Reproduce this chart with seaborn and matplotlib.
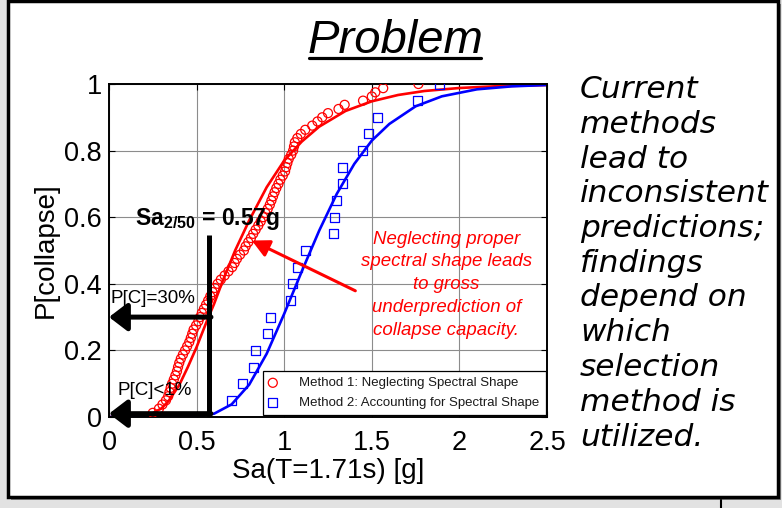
import seaborn as sns
import matplotlib.pyplot as plt
from matplotlib.patches import Rectangle
from matplotlib.lines import Line2D

# Method 1: neglecting spectral shape (collapse points)
m1_sa = [0.25, 0.285, 0.305, 0.325, 0.338, 0.345, 0.352, 0.36, 0.37, 0.379,
         0.388, 0.394, 0.401, 0.41, 0.422, 0.434, 0.446, 0.458, 0.467, 0.475,
         0.483, 0.497, 0.51, 0.52, 0.53, 0.542, 0.554, 0.566, 0.578, 0.591,
         0.604, 0.62, 0.638, 0.66, 0.682, 0.703, 0.717, 0.73, 0.748, 0.77,
         0.78, 0.795, 0.81, 0.823, 0.837, 0.852, 0.866, 0.88, 0.893, 0.906,
         0.918, 0.927, 0.936, 0.945, 0.955, 0.967, 0.978, 0.992, 1.005, 1.011,
         1.018, 1.026, 1.04, 1.051, 1.056, 1.061, 1.075, 1.095, 1.12, 1.16,
         1.19, 1.217, 1.25, 1.31, 1.345, 1.45, 1.5, 1.52, 1.565, 1.766]
m1_p = [0.0125, 0.025, 0.0375, 0.05, 0.0625, 0.075, 0.0875, 0.1, 0.1125, 0.125,
        0.1375, 0.15, 0.1625, 0.175, 0.1875, 0.2, 0.2125, 0.225, 0.2375, 0.25,
        0.2625, 0.275, 0.2875, 0.3, 0.3125, 0.325, 0.3375, 0.35, 0.3625, 0.375,
        0.3875, 0.4, 0.4125, 0.425, 0.4375, 0.45, 0.4625, 0.475, 0.4875, 0.5,
        0.5125, 0.525, 0.5375, 0.55, 0.5625, 0.575, 0.5875, 0.6, 0.6125, 0.625,
        0.6375, 0.65, 0.6625, 0.675, 0.6875, 0.7, 0.7125, 0.725, 0.7375, 0.75,
        0.7625, 0.775, 0.7875, 0.8, 0.8125, 0.825, 0.8375, 0.85, 0.8625, 0.875,
        0.8875, 0.9, 0.9125, 0.925, 0.9375, 0.95, 0.9625, 0.975, 0.9875, 1.0]

# Method 2: accounting for spectral shape
m2_sa = [0.70, 0.764, 0.823, 0.834, 0.907, 0.924, 1.038, 1.05, 1.076, 1.121,
         1.282, 1.286, 1.299, 1.33, 1.333, 1.446, 1.482, 1.533, 1.758, 1.887]
m2_p = [0.05, 0.10, 0.15, 0.20, 0.25, 0.30, 0.35, 0.40, 0.45, 0.50,
        0.55, 0.60, 0.65, 0.70, 0.75, 0.80, 0.85, 0.90, 0.95, 1.00]

# fitted fragility curves
fit1_sa = [0.0, 0.15, 0.23, 0.3, 0.34, 0.4, 0.45, 0.5, 0.56, 0.6, 0.65, 0.72,
           0.8, 0.9, 1.0, 1.1, 1.2, 1.35, 1.5, 1.65, 1.8, 2.0, 2.2, 2.5]
fit1_p = [0.0, 0.0002, 0.006, 0.026, 0.048, 0.095, 0.15, 0.21, 0.29, 0.34, 0.41, 0.5,
          0.59, 0.69, 0.77, 0.827, 0.872, 0.919, 0.948, 0.967, 0.979, 0.988, 0.993, 0.997]
fit2_sa = [0.0, 0.4, 0.5, 0.6, 0.7, 0.8, 0.9, 1.0, 1.1, 1.2, 1.3, 1.4, 1.5,
           1.6, 1.75, 1.9, 2.1, 2.3, 2.5]
fit2_p = [0.0, 0.0002, 0.0015, 0.01, 0.038, 0.097, 0.19, 0.31, 0.437, 0.56, 0.67, 0.76, 0.83,
          0.88, 0.933, 0.963, 0.984, 0.993, 0.997]

sa_2_50 = 0.57
p_30 = 0.30
p_1 = 0.01

x_ticks = [0, 0.5, 1, 1.5, 2, 2.5]
x_ticklabels = ['0', '0.5', '1', '1.5', '2', '2.5']
y_ticks = [0, 0.2, 0.4, 0.6, 0.8, 1.0]
y_ticklabels = ['0', '0.2', '0.4', '0.6', '0.8', '1']

sns.set_theme(style='white', rc={'text.color': 'black', 'axes.labelcolor': 'black',
                                 'xtick.color': 'black', 'ytick.color': 'black'})
plt.rcParams['font.family'] = ['Liberation Sans', 'DejaVu Sans']
plt.rcParams['mathtext.fontset'] = 'custom'
plt.rcParams['mathtext.rm'] = 'Liberation Sans'
plt.rcParams['mathtext.bf'] = 'Liberation Sans:bold'

W, H = 782, 508
fig = plt.figure(figsize=(W / 100, H / 100), dpi=100, facecolor='#e2e2e2')

# slide frame with a small shadow
fig.add_artist(Rectangle((11 / W, 8 / H), 770 / W, 496 / H, transform=fig.transFigure,
                         facecolor='#8a8a8a', edgecolor='none', zorder=-3))
fig.add_artist(Rectangle((8 / W, 11 / H), 770 / W, 496 / H, transform=fig.transFigure,
                         facecolor='white', edgecolor='black', linewidth=2.5, zorder=-2))
fig.add_artist(Line2D([721 / W, 721 / W], [0, 8 / H], color='black', lw=1.5))

# title
fig.text(395 / W, 1 - 53 / H, 'Problem', ha='center', va='baseline', fontsize=34,
         style='italic', color='black', family=['Liberation Sans Narrow', 'Liberation Sans'])
fig.add_artist(Line2D([309 / W, 481 / W], [1 - 57.5 / H] * 2, color='black', lw=2.3))

ax = fig.add_axes([109 / W, 1 - 417 / H, 438 / W, 333 / H])

sns.lineplot(x=fit1_sa, y=fit1_p, color='#ff0000', linewidth=1.9, ax=ax, zorder=2)
sns.lineplot(x=fit2_sa, y=fit2_p, color='#0000ff', linewidth=1.9, ax=ax, zorder=2)
sns.scatterplot(x=m1_sa, y=m1_p, marker='o', s=42, facecolor='none', edgecolor='#ff0000',
                linewidth=0.9, label='Method 1: Neglecting Spectral Shape', ax=ax, zorder=3)
sns.scatterplot(x=m2_sa, y=m2_p, marker='s', s=42, facecolor='none', edgecolor='#0000ff',
                linewidth=0.9, label='Method 2: Accounting for Spectral Shape', ax=ax, zorder=3)

ax.set_xlim(0, 2.5)
ax.set_ylim(0, 1)
ax.set_xticks(x_ticks)
ax.set_xticklabels(x_ticklabels)
ax.set_yticks(y_ticks)
ax.set_yticklabels(y_ticklabels)
ax.tick_params(axis='both', labelsize=19.5, direction='in', length=4, width=0.8,
               top=True, right=True, bottom=True, left=True, colors='black')
ax.tick_params(axis='x', pad=9)
ax.tick_params(axis='y', pad=5)
ax.grid(True, color='#8c8c8c', linewidth=0.8)
for sp in ax.spines.values():
    sp.set_color('black')
    sp.set_linewidth(1.4)
ax.set_xlabel('Sa(T=1.71s) [g]', fontsize=20, labelpad=2)
ax.set_ylabel('P[collapse]', fontsize=20, labelpad=4)

leg = ax.legend(loc='lower right', bbox_to_anchor=(0.997, 0.005), borderaxespad=0,
                fontsize=9.5, frameon=True, fancybox=False, edgecolor='black',
                framealpha=1, handlelength=0.55, handletextpad=1.75, labelspacing=0.6,
                borderpad=0.45)
leg.get_frame().set_linewidth(0.9)
for t in leg.get_texts():
    t.set_color('#1a1a1a')

# 2/50 hazard level and the probabilities it gives
ax.plot([sa_2_50, sa_2_50], [0, 0.547], color='black', lw=3.6, solid_capstyle='butt', zorder=4)
black_head = dict(arrowstyle='-|>,head_length=0.55,head_width=0.42', color='black',
                  lw=3.6, mutation_scale=20, shrinkA=0, shrinkB=0)
ax.annotate('', xy=(0, p_30), xytext=(sa_2_50 + 0.012, p_30), arrowprops=black_head,
            zorder=4)
ax.annotate('', xy=(0, p_1), xytext=(sa_2_50 + 0.012, p_1), arrowprops=black_head,
            zorder=4, annotation_clip=False)
ax.text(0.149, 0.577, r'Sa$_{\mathbf{2/50}}$ = 0.57g', fontsize=16.5, fontweight='bold',
        color='black', ha='left', va='baseline', zorder=5)
ax.text(0.011, 0.343, 'P[C]=30%', fontsize=13.5, color='black', ha='left', va='baseline', zorder=5)
ax.text(0.046, 0.066, 'P[C]<1%', fontsize=13.5, color='black', ha='left', va='baseline', zorder=5)

# red note
ax.annotate('', xy=(0.815, 0.53), xytext=(1.406, 0.379),
            arrowprops=dict(arrowstyle='-|>,head_length=0.75,head_width=0.38',
                            color='#ff0000', lw=2.2, mutation_scale=14, shrinkA=0, shrinkB=0),
            zorder=5)
ax.text(1.926, 0.397, 'Neglecting proper\nspectral shape leads\nto gross\nunderprediction of\ncollapse capacity.',
        color='#ff0000', fontsize=13.4, style='italic', ha='center', va='center',
        multialignment='center', linespacing=1.45, zorder=5)

fig.text(580 / W, 1 - 75 / H,
         'Current\nmethods\nlead to\ninconsistent\npredictions;\nfindings\ndepend on\nwhich\nselection\nmethod is\nutilized.',
         ha='left', va='top', fontsize=22.5, style='italic', family='DejaVu Sans',
         color='black', linespacing=1.25)

fig.savefig('out.png', dpi=100)
